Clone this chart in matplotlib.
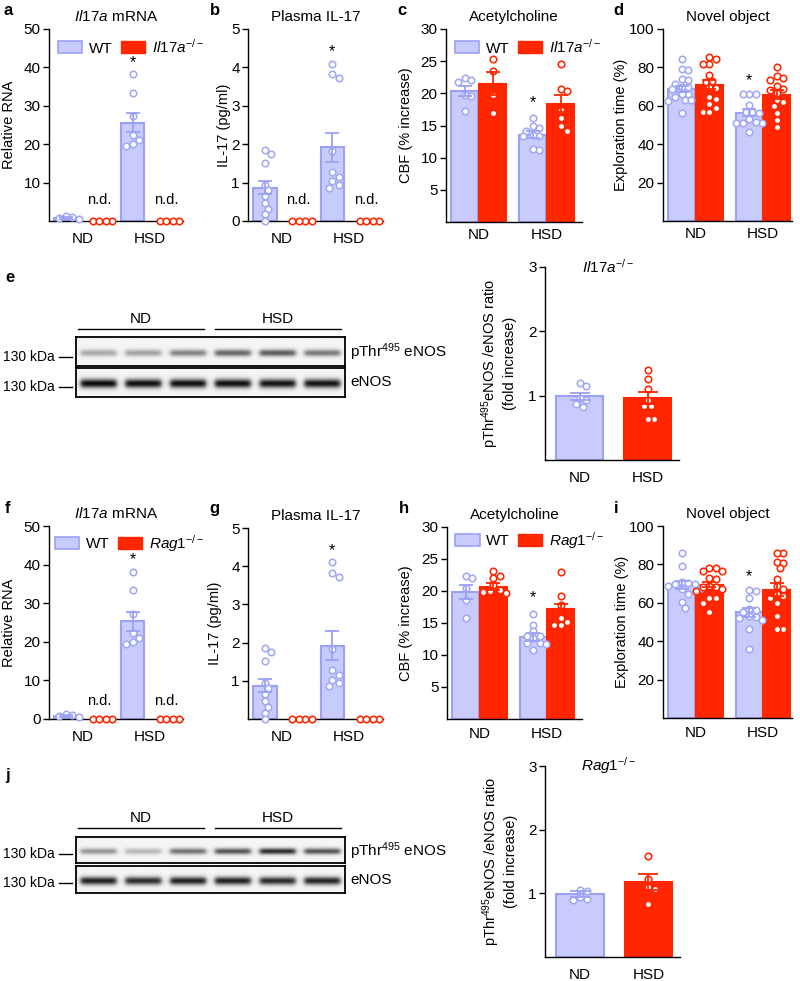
import matplotlib.pyplot as plt
import numpy as np
from matplotlib.patches import Patch
from matplotlib.lines import Line2D

plt.rcParams['font.family'] = ['Liberation Sans', 'DejaVu Sans']
plt.rcParams['mathtext.fontset'] = 'custom'
plt.rcParams['mathtext.rm'] = 'Liberation Sans'
plt.rcParams['mathtext.it'] = 'Liberation Sans:italic'
plt.rcParams['mathtext.bf'] = 'Liberation Sans:bold'

W, H = 800, 981
WT_FILL = '#c8cbfb'
WT_EDGE = '#9ba1f4'
WT_DOT = '#a3a8f6'
KO = '#ff2600'

IL17A = r'$\mathit{Il17a}^{-/-}$'
RAG1 = r'$\mathit{Rag1}^{-/-}$'
groups = ['ND', 'HSD']

# ---- data ----
# Il17a mRNA (a, f)
mrna_wt = [[1.3, 1.0, 0.7, 0.5], [38.2, 33.3, 27.3, 22.3, 21.0, 20.0, 19.5]]
mrna_ko = [[0, 0, 0, 0], [0, 0, 0, 0]]
mrna_wt_mean, mrna_wt_sem = [0.8, 25.6], [0.25, 2.4]

# Plasma IL-17 (b, g)
il17_wt = [[1.85, 1.75, 1.52, 0.95, 0.8, 0.65, 0.47, 0.32, 0.17, 0.0],
           [4.1, 3.82, 3.72, 1.83, 1.27, 1.15, 1.03, 0.93, 0.87]]
il17_ko = [[0, 0, 0, 0], [0, 0, 0, 0]]
il17_wt_mean, il17_wt_sem = [0.87, 1.92], [0.17, 0.38]

# Acetylcholine, Il17a-/- (c)
ach1_wt = [[22.4, 22.0, 21.8, 19.7, 19.6, 17.3],
           [16.1, 15.0, 14.6, 14.2, 13.4, 13.3, 13.5, 11.2, 11.4]]
ach1_ko = [[25.4, 23.4, 19.8, 17.0], [24.6, 20.6, 20.3, 17.4, 16.1, 15.0, 14.2]]
ach1_wt_mean, ach1_wt_sem = [20.4, 13.6], [0.8, 0.5]
ach1_ko_mean, ach1_ko_sem = [21.5, 18.4], [1.8, 1.3]

# Novel object, Il17a-/- (d)
nov1_wt = [[84.5, 79.2, 78.6, 74.0, 73.4, 71.3, 69.6, 69.6, 68.5, 66.1, 66.1, 64.7, 63.0, 62.6, 62.8, 56.0],
           [66.4, 66.4, 66.2, 60.2, 57.0, 56.5, 56.9, 53.0, 51.3, 51.2, 51.0, 51.5, 46.5]]
nov1_ko = [[85.6, 84.5, 81.9, 81.8, 76.0, 73.0, 72.5, 69.6, 69.3, 64.7, 63.5, 60.9, 59.1, 57.0, 57.0],
           [80.4, 75.5, 74.3, 73.4, 70.4, 68.5, 68.2, 66.5, 62.9, 62.0, 59.8, 56.3, 52.8, 48.7]]
nov1_wt_mean, nov1_wt_sem = [68.7, 56.3], [1.4, 1.8]
nov1_ko_mean, nov1_ko_sem = [71.0, 65.8], [2.3, 2.5]

# pThr495/eNOS ratio, Il17a-/- (e)
ratio1_nd = [1.19, 1.15, 0.96, 0.93, 0.87, 0.83]
ratio1_hsd = [1.40, 1.26, 1.10, 0.93, 0.84, 0.84, 0.64, 0.64]
ratio1_mean, ratio1_sem = [0.99, 0.96], [0.05, 0.09]
blot1_pthr = [0.32, 0.35, 0.48, 0.60, 0.65, 0.52]
blot1_enos = [1.0, 0.97, 0.98, 0.97, 0.95, 0.95]

# Acetylcholine, Rag1-/- (h)
ach2_wt = [[22.4, 22.0, 20.4, 18.6, 15.8],
           [16.4, 14.7, 13.7, 13.0, 12.9, 12.6, 11.9, 11.7, 11.8, 10.8]]
ach2_ko = [[23.1, 22.4, 22.0, 20.9, 20.2, 20.0, 19.9, 19.7],
           [23.0, 19.2, 17.8, 15.8, 15.2, 14.7, 14.7]]
ach2_wt_mean, ach2_wt_sem = [19.8, 12.8], [1.1, 0.6]
ach2_ko_mean, ach2_ko_sem = [20.7, 17.2], [0.5, 0.8]

# Novel object, Rag1-/- (i)
nov2_wt = [[86.1, 79.2, 71.0, 70.5, 70.0, 69.9, 68.8, 67.9, 67.0, 64.4, 60.4, 57.5],
           [66.8, 66.2, 62.6, 57.0, 56.5, 55.0, 53.2, 52.5, 52.0, 51.0, 46.2, 35.8]]
nov2_ko = [[78.3, 78.3, 76.6, 76.6, 73.1, 72.2, 68.7, 68.4, 68.2, 67.2, 66.1, 62.6, 62.5, 60.1, 55.0],
           [85.8, 85.8, 81.0, 80.9, 78.0, 72.5, 68.5, 67.2, 64.5, 63.7, 62.3, 59.8, 53.2, 46.2, 46.2]]
nov2_wt_mean, nov2_wt_sem = [69.3, 55.0], [2.0, 2.2]
nov2_ko_mean, nov2_ko_sem = [69.3, 66.8], [1.3, 3.4]

# pThr495/eNOS ratio, Rag1-/- (j)
ratio2_nd = [1.06, 1.03, 0.95, 0.91, 0.90]
ratio2_hsd = [1.59, 1.22, 1.10, 1.07, 0.83]
ratio2_mean, ratio2_sem = [0.99, 1.18], [0.04, 0.12]
blot2_pthr = [0.40, 0.26, 0.55, 0.68, 0.85, 0.68]
blot2_enos = [0.90, 0.85, 0.90, 0.90, 0.85, 0.88]

fig = plt.figure(figsize=(W / 100, H / 100), dpi=100)


def px_axes(l, t, r, b):
    ax = fig.add_axes([l / W, 1 - b / H, (r - l) / W, (b - t) / H])
    ax._px = (l, t, r, b)
    return ax


def style(ax, xlim, ylim, yticks, ticks_x, xpad, ylab, ylab_x):
    ax.set_xlim(*xlim)
    ax.set_ylim(*ylim)
    ax.set_yticks(yticks)
    ax.set_yticklabels([str(t) for t in yticks])
    ax.set_xticks(ticks_x)
    ax.set_xticklabels(groups)
    ax.spines['top'].set_visible(False)
    ax.spines['right'].set_visible(False)
    ax.spines['left'].set_linewidth(1.0)
    ax.spines['bottom'].set_linewidth(1.0)
    ax.tick_params(axis='y', direction='out', length=4, width=1, labelsize=11, pad=2)
    ax.tick_params(axis='x', length=0, labelsize=11, pad=xpad)
    ax.set_ylabel(ylab, fontsize=10.5)
    l, t, r, b = ax._px
    ax.yaxis.set_label_coords((ylab_x - l) / (r - l), 0.5)


def swarm_x(ax, x0, vals, d=6.6):
    pts = ax.transData.transform(np.column_stack([np.full(len(vals), x0), vals]))
    order = np.argsort(vals)[::-1]
    placed = []
    xs = np.zeros(len(vals))
    for i in order:
        px, py = pts[i]
        off = 0.0
        for k in range(60):
            cands = [0.0] if k == 0 else [k * d * 0.5, -k * d * 0.5]
            found = None
            for o in cands:
                if all((px + o - qx) ** 2 + (py - qy) ** 2 >= (d * 0.95) ** 2 for qx, qy in placed):
                    found = o
                    break
            if found is not None:
                off = found
                break
        placed.append((px + off, py))
        xs[i] = ax.transData.inverted().transform((px + off, py))[0]
    return xs


def dots(ax, x0, vals, color):
    xs = swarm_x(ax, x0, vals)
    ax.scatter(xs, vals, s=22, facecolor='white', edgecolor=color, linewidth=1.15,
               zorder=3, clip_on=False)


def grouped(ax, pos, width, wt_pts, ko_pts, wt_mean, wt_sem, ko_mean=None, ko_sem=None):
    wt_x = [pos[0], pos[2]]
    ko_x = [pos[1], pos[3]]
    ax.bar(wt_x, wt_mean, width, color=WT_FILL, edgecolor=WT_EDGE, linewidth=1.5, zorder=1)
    if ko_mean is not None:
        ax.bar(ko_x, ko_mean, width, color=KO, edgecolor=KO, linewidth=1.5, zorder=1)
    for x, p in zip(wt_x, wt_pts):
        dots(ax, x, p, WT_DOT)
    for x, p in zip(ko_x, ko_pts):
        dots(ax, x, p, KO)
    ax.errorbar(wt_x, wt_mean, yerr=wt_sem, fmt='none', ecolor=WT_EDGE, elinewidth=1.3,
                capsize=5, capthick=1.3, zorder=4)
    if ko_mean is not None:
        ax.errorbar(ko_x, ko_mean, yerr=ko_sem, fmt='none', ecolor=KO, elinewidth=1.3,
                    capsize=5, capthick=1.3, zorder=4)


def legend(ax, ko_label, anchor):
    handles = [Patch(facecolor=WT_FILL, edgecolor=WT_EDGE, linewidth=1.2, label='WT'),
               Patch(facecolor=KO, edgecolor=KO, label=ko_label)]
    ax.legend(handles=handles, loc='upper left', bbox_to_anchor=anchor, ncol=2, frameon=False,
              fontsize=11, handlelength=1.6, handleheight=0.8, handletextpad=0.45,
              columnspacing=0.5, borderpad=0, borderaxespad=0)


def star(ax, x, y):
    ax.text(x, y, '*', ha='center', va='center', fontsize=11.5)


def ratio_panel(ax, nd, hsd, mean, sem, title, ylab_x):
    pos = [0, 1]
    style(ax, (-0.51, 1.46), (0, 3), [1, 2, 3], pos, 8,
          r'pThr$^{495}$eNOS /eNOS ratio' + '\n(fold increase)', ylab_x)
    ax.bar(pos[0], mean[0], 0.69, color=WT_FILL, edgecolor=WT_EDGE, linewidth=1.5, zorder=1)
    ax.bar(pos[1], mean[1], 0.69, color=KO, edgecolor=KO, linewidth=1.5, zorder=1)
    dots(ax, pos[0], nd, WT_DOT)
    dots(ax, pos[1], hsd, KO)
    ax.errorbar(pos[0], mean[0], yerr=sem[0], fmt='none', ecolor=WT_EDGE, elinewidth=1.3,
                capsize=7, capthick=1.3, zorder=4)
    ax.errorbar(pos[1], mean[1], yerr=sem[1], fmt='none', ecolor=KO, elinewidth=1.3,
                capsize=7, capthick=1.3, zorder=4)
    ax.text(0.47, 1.0, title, transform=ax.transAxes, ha='center', va='center', fontsize=11)


def blot(l, t, r, b, vals, sigma):
    ax = px_axes(l, t, r, b)
    hh, ww = 60, 540
    yy = np.linspace(0, 1, hh)[:, None]
    xx = np.linspace(0, 1, ww)[None, :]
    n = len(vals)
    img = np.zeros((hh, ww))
    for i, v in enumerate(vals):
        c = (i + 0.5) / n
        xp = 1 / (1 + np.exp(-(xx - (c - 0.4 / n)) * 200)) / (1 + np.exp((xx - (c + 0.4 / n)) * 200))
        yp = np.exp(-((yy - 0.55) / sigma) ** 2)
        img += v * xp * yp
    ax.imshow(0.96 - 0.93 * np.clip(img, 0, 1), cmap='gray', vmin=0, vmax=1,
              aspect='auto', interpolation='bilinear')
    ax.set_xticks([])
    ax.set_yticks([])
    for s in ax.spines.values():
        s.set_linewidth(1.3)
    return ax


def fig_line(x0, x1, y, lw=1.0):
    fig.add_artist(Line2D([x0 / W, x1 / W], [1 - y / H, 1 - y / H], color='black',
                          linewidth=lw, transform=fig.transFigure))


def ftext(x, y, s, **kw):
    fig.text(x / W, 1 - y / H, s, **kw)


def blot_block(y_line, y_pb, y_eb, pthr, enos):
    fig_line(78, 204, y_line)
    fig_line(215, 341, y_line)
    ftext(141, y_line - 10, 'ND', ha='center', va='center', fontsize=11)
    ftext(278, y_line - 10, 'HSD', ha='center', va='center', fontsize=11)
    blot(76, y_pb[0], 345, y_pb[1], pthr, 0.12)
    blot(76, y_eb[0], 345, y_eb[1], enos, 0.15)
    for yc in [y_pb[1] - 9, y_eb[1] - 10]:
        ftext(3, yc, '130 kDa', ha='left', va='center', fontsize=10)
        fig_line(59, 72, yc)
    ftext(350, (y_pb[0] + y_pb[1]) / 2 + 1, r'pThr$^{495}$ eNOS', ha='left', va='center', fontsize=11)
    ftext(350, (y_eb[0] + y_eb[1]) / 2, 'eNOS', ha='left', va='center', fontsize=11)


pos4 = [0, 1, 2, 3]
posp = [0, 1, 2.45, 3.45]

# ---- row 1 ----
ax = px_axes(49, 29, 183, 221)
style(ax, (-0.5, 3.5), (0, 50), [10, 20, 30, 40, 50], [0.5, 2.5], 8, 'Relative RNA', 16)
grouped(ax, pos4, 0.7, mrna_wt, mrna_ko, mrna_wt_mean, mrna_wt_sem)
for x in [1, 3]:
    ax.text(x, 5.5, 'n.d.', ha='center', va='center', fontsize=10.5)
star(ax, 2, 41.3)
legend(ax, IL17A, (0.067, 0.955))
ax.set_title(r'$\mathit{Il17a}$ mRNA', fontsize=11, pad=6)

ax = px_axes(248, 29, 383, 221)
style(ax, (-0.5, 3.5), (0, 5), [0, 1, 2, 3, 4, 5], [0.5, 2.5], 8, 'IL-17 (pg/ml)', 231)
grouped(ax, pos4, 0.7, il17_wt, il17_ko, il17_wt_mean, il17_wt_sem)
for x in [1, 3]:
    ax.text(x, 0.55, 'n.d.', ha='center', va='center', fontsize=10.5)
star(ax, 2, 4.4)
ax.set_title('Plasma IL-17', fontsize=11, pad=6)

ax = px_axes(446, 29, 582, 222)
style(ax, (-0.68, 4.22), (0, 30), [5, 10, 15, 20, 25, 30], [0.5, 2.95], 4, 'CBF (% increase)', 413)
grouped(ax, posp, 0.97, ach1_wt, ach1_ko, ach1_wt_mean, ach1_wt_sem, ach1_ko_mean, ach1_ko_sem)
star(ax, 2.45, 18.6)
legend(ax, IL17A, (0.066, 0.955))
ax.set_title('Acetylcholine', fontsize=11, pad=6)

ax = px_axes(663, 29, 792, 221)
style(ax, (-0.67, 4.0), (0, 100), [20, 40, 60, 80, 100], [0.5, 2.95], 4, 'Exploration time (%)', 628)
grouped(ax, posp, 0.97, nov1_wt, nov1_ko, nov1_wt_mean, nov1_wt_sem, nov1_ko_mean, nov1_ko_sem)
star(ax, 2.45, 73.2)
ax.set_title('Novel object', fontsize=11, pad=6)

# ---- e ----
blot_block(329, (337, 366), (368, 397), blot1_pthr, blot1_enos)
ax = px_axes(545, 267, 679, 460)
ratio_panel(ax, ratio1_nd, ratio1_hsd, ratio1_mean, ratio1_sem, IL17A, 517)

# ---- row 2 ----
ax = px_axes(49, 526, 183, 719)
style(ax, (-0.5, 3.5), (0, 50), [0, 10, 20, 30, 40, 50], [0.5, 2.5], 8, 'Relative RNA', 16)
grouped(ax, pos4, 0.7, mrna_wt, mrna_ko, [0.8, 25.3], mrna_wt_sem)
for x in [1, 3]:
    ax.text(x, 4.6, 'n.d.', ha='center', va='center', fontsize=10.5)
star(ax, 2, 41.3)
legend(ax, RAG1, (0.045, 0.965))
ax.set_title(r'$\mathit{Il17a}$ mRNA', fontsize=11, pad=6)

ax = px_axes(248, 528, 383, 719)
style(ax, (-0.5, 3.5), (0, 5), [1, 2, 3, 4, 5], [0.5, 2.5], 8, 'IL-17 (pg/ml)', 222)
grouped(ax, pos4, 0.7, il17_wt, il17_ko, il17_wt_mean, il17_wt_sem)
star(ax, 2, 4.4)
ax.set_title('Plasma IL-17', fontsize=11, pad=6)

ax = px_axes(447, 527, 582, 719)
style(ax, (-0.68, 4.22), (0, 30), [5, 10, 15, 20, 25, 30], [0.5, 2.95], 6, 'CBF (% increase)', 413)
grouped(ax, posp, 0.97, ach2_wt, ach2_ko, ach2_wt_mean, ach2_wt_sem, ach2_ko_mean, ach2_ko_sem)
star(ax, 2.45, 19.0)
legend(ax, RAG1, (0.06, 0.985))
ax.set_title('Acetylcholine', fontsize=11, pad=6)

ax = px_axes(663, 526, 792, 718)
style(ax, (-0.67, 4.0), (0, 100), [20, 40, 60, 80, 100], [0.5, 2.95], 6, 'Exploration time (%)', 629)
grouped(ax, posp, 0.97, nov2_wt, nov2_ko, nov2_wt_mean, nov2_wt_sem, nov2_ko_mean, nov2_ko_sem)
star(ax, 2.45, 73.6)
ax.set_title('Novel object', fontsize=11, pad=6)

# ---- j ----
blot_block(828, (837, 863), (866, 893), blot2_pthr, blot2_enos)
ax = px_axes(545, 766, 680, 957)
ratio_panel(ax, ratio2_nd, ratio2_hsd, ratio2_mean, ratio2_sem, RAG1, 518)

# panel letters
for x, y, s in [(4, 15, 'a'), (210, 15, 'b'), (397, 15, 'c'), (613, 15, 'd'), (5, 282, 'e'),
                (5, 513, 'f'), (209, 513, 'g'), (399, 513, 'h'), (614, 513, 'i'), (5, 780, 'j')]:
    ftext(x, y, s, ha='left', va='baseline', fontsize=12, fontweight='bold')

fig.savefig('out.png', dpi=100)
